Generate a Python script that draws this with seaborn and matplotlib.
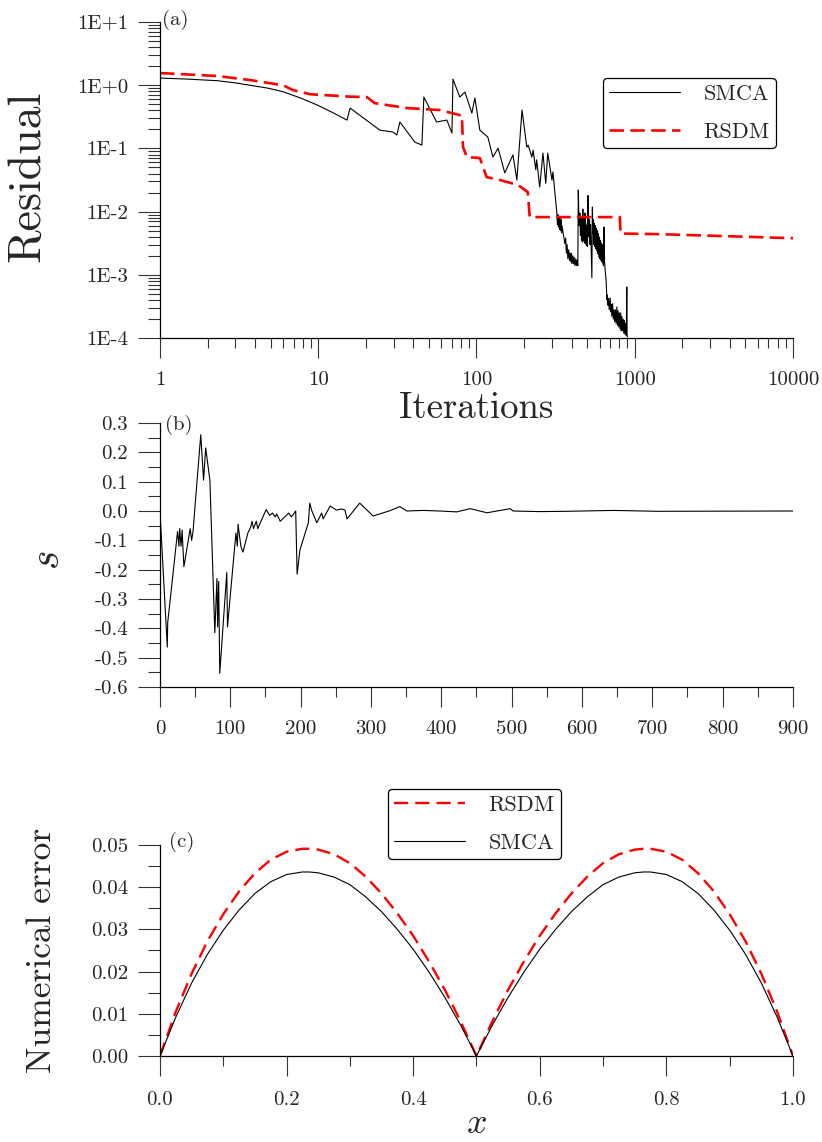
import numpy as np
import pandas as pd
import matplotlib
matplotlib.use("Agg")
import matplotlib.pyplot as plt
from matplotlib.ticker import LogLocator, NullFormatter, MultipleLocator, FixedLocator
import seaborn as sns

sns.set_style("ticks")
plt.rcParams["font.family"] = ["cmr10", "DejaVu Serif"]
plt.rcParams["mathtext.fontset"] = "cm"
plt.rcParams["axes.unicode_minus"] = False

# ---------------- data: panel (a) ----------------
smca_iter = [1, 1.5, 2.3, 3, 3.7, 4.8, 6, 7.7, 9.8, 12.4,
             15.2, 15.9, 24.5, 29.6, 31.4, 32.8, 40.8, 45.2, 46.5, 56,
             65, 70, 71, 78.5, 84.5, 93.5, 97.7, 105, 118, 127,
             137, 151, 170, 180, 194, 208, 212, 224, 228, 237,
             240, 251, 263, 274, 282, 300, 304, 322, 325, 327,
             330, 332, 335, 337, 340, 342, 345, 347, 355, 362,
             366, 370, 374, 378, 383, 387, 390, 395, 398, 401,
             406, 410, 414, 419, 424, 428, 432, 437, 440, 445,
             450, 454, 457, 461, 464, 467, 470, 473, 475, 478,
             480, 483, 485, 488, 490, 495, 500, 503, 506, 510,
             515, 518, 522, 526, 530, 536, 540, 544, 548, 551,
             555, 560, 563, 566, 570, 575, 580, 584, 587, 590,
             593, 596, 599, 602, 607, 612, 616, 620, 625, 630,
             635, 639, 645, 650, 660, 667, 672, 678, 684, 690,
             696, 700, 705, 710, 717, 725, 732, 740, 747, 755,
             763, 771, 778, 785, 792, 800, 808, 815, 822, 829,
             837, 845, 852, 860, 868, 876, 884, 891, 895, 900]
smca_res = [1.30, 1.25, 1.18, 1.09, 1.0, 0.90, 0.79, 0.63, 0.49, 0.367,
            0.281, 0.435, 0.195, 0.182, 0.163, 0.262, 0.126, 0.113, 0.65, 0.262,
            0.281, 0.175, 1.25, 0.65, 0.78, 0.363, 0.63, 0.195, 0.151, 0.073,
            0.101, 0.041, 0.079, 0.0316, 0.405, 0.105, 0.113, 0.073, 0.094, 0.046,
            0.066, 0.0245, 0.0846, 0.028, 0.0846, 0.0316, 0.0424, 0.0095, 0.0062, 0.0090,
            0.0057, 0.0085, 0.0052, 0.0078, 0.0050, 0.0075, 0.0046, 0.0060, 0.0042, 0.0031,
            0.0038, 0.0022, 0.0030, 0.0018, 0.0025, 0.0017, 0.0022, 0.0016, 0.0022, 0.0015,
            0.0020, 0.0015, 0.0019, 0.0014, 0.0018, 0.0014, 0.0017, 0.0014, 0.022, 0.006,
            0.0095, 0.0042, 0.0080, 0.0035, 0.0075, 0.0033, 0.0110, 0.0038, 0.0080, 0.0034,
            0.0070, 0.0032, 0.0095, 0.0031, 0.0065, 0.0029, 0.0060, 0.0028, 0.018, 0.0050,
            0.0040, 0.0075, 0.0030, 0.0062, 0.0027, 0.0009, 0.0118, 0.0045, 0.0075, 0.0030,
            0.0065, 0.0028, 0.0060, 0.0026, 0.0055, 0.0024, 0.0050, 0.0022, 0.0045, 0.0021,
            0.0040, 0.0019, 0.0038, 0.0018, 0.0035, 0.0017, 0.0032, 0.0016, 0.0030, 0.0015,
            0.0014, 0.0057, 0.0016, 0.0012, 0.0008, 0.0004, 0.00048, 0.00033, 0.00042, 0.00028,
            0.00036, 0.00043, 0.00026, 0.00034, 0.00022, 0.00035, 0.0002, 0.00028, 0.00018, 0.00028,
            0.00017, 0.00031, 0.00016, 0.00027, 0.00015, 0.00025, 0.00014, 0.00025, 0.00013, 0.00022,
            0.00013, 0.0002, 0.00012, 0.00019, 0.000115, 0.00017, 0.00011, 0.00064, 0.00011, 0.000104]

rsdm_iter = [1, 2.3, 3.7, 6.0, 6.9, 8.9, 15.9, 20.3, 22.8, 36.3,
             58.7, 78.5, 80.9, 82.2, 87, 105, 116, 141, 183, 211,
             217, 805, 814, 1440, 10000]
rsdm_res = [1.56, 1.40, 1.21, 1.0, 0.84, 0.72, 0.66, 0.65, 0.52, 0.435,
            0.405, 0.337, 0.337, 0.105, 0.073, 0.0705, 0.0352, 0.0316, 0.0264, 0.0204,
            0.0082, 0.0082, 0.0045, 0.0044, 0.0038]

res_ticks = [1e-4, 1e-3, 1e-2, 1e-1, 1e0, 1e1]
res_tick_labels = ["1E-4", "1E-3", "1E-2", "1E-1", "1E+0", "1E+1"]
iter_ticks = [1, 10, 100, 1000, 10000]
iter_tick_labels = ["1", "10", "100", "1000", "10000"]

# ---------------- data: panel (b) ----------------
s_iter = [0, 10.4, 11, 15.6, 25, 27, 28, 30, 31.5, 34,
          43, 45, 47, 58, 62, 65, 71, 78, 81, 82,
          83.5, 85, 95, 96, 108, 110, 111, 115, 118, 125,
          129, 131, 133, 137, 139, 151, 156, 160, 164, 166,
          171, 183, 187, 193, 195, 199, 211, 213, 216, 223,
          230, 232, 242, 251, 258, 263, 266, 284, 303, 327,
          341, 351, 374, 398, 422, 441, 465, 498, 502, 540,
          578, 645, 707, 900]
s_val = [0.0, -0.464, -0.38, -0.28, -0.07, -0.12, -0.06, -0.12, -0.065, -0.19,
         -0.06, -0.10, -0.07, 0.26, 0.105, 0.215, 0.105, -0.415, -0.23, -0.395,
         -0.24, -0.553, -0.21, -0.395, -0.075, -0.12, -0.045, -0.12, -0.14, -0.075,
         -0.055, -0.035, -0.06, -0.035, -0.06, 0.005, -0.015, -0.007, -0.02, -0.01,
         -0.035, -0.007, -0.02, 0.0, -0.215, -0.133, -0.04, 0.027, 0.0, -0.04,
         -0.007, -0.027, 0.017, 0.003, 0.007, 0.003, -0.027, 0.027, -0.017, 0.001,
         0.015, 0.0, 0.002, 0.0, -0.003, 0.008, -0.006, 0.008, 0.0, -0.002,
         -0.001, 0.002, -0.001, 0.0]
s_ticks = [-0.6, -0.5, -0.4, -0.3, -0.2, -0.1, 0.0, 0.1, 0.2, 0.3]
s_tick_labels = ["-0.6", "-0.5", "-0.4", "-0.3", "-0.2", "-0.1", "0.0", "0.1", "0.2", "0.3"]

# ---------------- data: panel (c) ----------------
err_x = [0.0, 0.025, 0.05, 0.075, 0.1, 0.125, 0.15, 0.175, 0.2, 0.225, 0.236,
         0.25, 0.275, 0.3, 0.325, 0.35, 0.375, 0.4, 0.425, 0.45, 0.475, 0.5,
         0.525, 0.55, 0.575, 0.6, 0.625, 0.65, 0.675, 0.7, 0.725, 0.75, 0.764,
         0.775, 0.8, 0.825, 0.85, 0.875, 0.9, 0.925, 0.95, 0.975, 1.0]
err_rsdm = [0.0, 0.0105, 0.0195, 0.0272, 0.0336, 0.0390, 0.0433, 0.0465, 0.0484, 0.0491, 0.0491,
            0.0489, 0.0478, 0.0457, 0.0425, 0.0385, 0.0338, 0.0285, 0.0224, 0.0157, 0.0082, 0.0,
            0.0082, 0.0157, 0.0224, 0.0285, 0.0338, 0.0385, 0.0425, 0.0457, 0.0478, 0.0489, 0.0491,
            0.0491, 0.0484, 0.0465, 0.0433, 0.0390, 0.0336, 0.0272, 0.0195, 0.0105, 0.0]
err_smca = [0.0, 0.0092, 0.0173, 0.0241, 0.0298, 0.0346, 0.0385, 0.0413, 0.0430, 0.0436, 0.0436,
            0.0434, 0.0424, 0.0406, 0.0377, 0.0342, 0.0300, 0.0253, 0.0199, 0.0139, 0.0073, 0.0,
            0.0073, 0.0139, 0.0199, 0.0253, 0.0300, 0.0342, 0.0377, 0.0406, 0.0424, 0.0434, 0.0436,
            0.0436, 0.0430, 0.0413, 0.0385, 0.0346, 0.0298, 0.0241, 0.0173, 0.0092, 0.0]
err_yticks = [0.0, 0.01, 0.02, 0.03, 0.04, 0.05]
err_ytick_labels = ["0.00", "0.01", "0.02", "0.03", "0.04", "0.05"]
x_ticks = [0.0, 0.2, 0.4, 0.6, 0.8, 1.0]
x_tick_labels = ["0.0", "0.2", "0.4", "0.6", "0.8", "1.0"]

# ---------------- figure ----------------
fig = plt.figure(figsize=(8.22, 11.42), dpi=100)
L, W = 0.1946, 0.7701
ax1 = fig.add_axes([L, 0.7040, W, 0.2767])
ax2 = fig.add_axes([L, 0.3984, W, 0.2312])
ax3 = fig.add_axes([L, 0.0753, W, 0.1848])
for a in (ax1, ax2, ax3):
    a.set_facecolor("none")

TICKC = "#333333"
LS = 15


def style_axis(ax):
    sns.despine(ax=ax)
    for sp in ("left", "bottom"):
        ax.spines[sp].set_linewidth(0.9)
        ax.spines[sp].set_color("black")
    ax.tick_params(axis="y", which="major", direction="out", length=16, width=0.8,
                   color=TICKC, pad=7, labelsize=LS)
    ax.tick_params(axis="y", which="minor", direction="out", length=8.5, width=0.8, color=TICKC)
    ax.tick_params(axis="x", which="major", direction="out", length=14.5, width=0.8,
                   color=TICKC, pad=9, labelsize=LS)
    ax.tick_params(axis="x", which="minor", direction="out", length=7.2, width=0.8, color=TICKC)


def style_legend(ax):
    leg = ax.get_legend()
    leg.get_frame().set_linewidth(0.9)


red_dash = (0, (5.5, 2.4))
LEG = dict(fontsize=16, frameon=True, fancybox=True, edgecolor="black", framealpha=1,
           handlelength=3.2, handletextpad=1.05, labelspacing=0.85, borderpad=0.28,
           borderaxespad=0)

# ---- panel (a)
df_smca = pd.DataFrame({"Iterations": smca_iter, "Residual": smca_res})
df_rsdm = pd.DataFrame({"Iterations": rsdm_iter, "Residual": rsdm_res})
sns.lineplot(data=df_smca, x="Iterations", y="Residual", ax=ax1, color="black",
             linewidth=0.8, estimator=None, sort=False, label="SMCA")
sns.lineplot(data=df_rsdm, x="Iterations", y="Residual", ax=ax1, color="#ff0000",
             linewidth=1.9, estimator=None, sort=False, linestyle=red_dash, label="RSDM")
ax1.set_xscale("log")
ax1.set_yscale("log")
ax1.set_xlim(1, 10000)
ax1.set_ylim(1e-4, 10)
ax1.xaxis.set_major_locator(FixedLocator(iter_ticks))
ax1.set_xticklabels(iter_tick_labels)
ax1.xaxis.set_minor_locator(LogLocator(base=10, subs=np.arange(2, 10), numticks=30))
ax1.xaxis.set_minor_formatter(NullFormatter())
ax1.yaxis.set_major_locator(FixedLocator(res_ticks))
ax1.set_yticklabels(res_tick_labels)
ax1.yaxis.set_minor_locator(LogLocator(base=10, subs=np.arange(2, 10), numticks=30))
ax1.yaxis.set_minor_formatter(NullFormatter())
style_axis(ax1)
ax1.set_xlabel("Iterations", fontsize=26.5, va="center")
ax1.set_ylabel("Residual", fontsize=33, va="center", ha="center")
ax1.xaxis.set_label_coords(0.5, -0.222)
ax1.yaxis.set_label_coords(-0.210, 0.513)
ax1.text(0.004, 1.006, "(a)", transform=ax1.transAxes, fontsize=15, va="center", ha="left")
h1, l1 = ax1.get_legend_handles_labels()
ax1.legend(h1, l1, loc="upper right", bbox_to_anchor=(0.973, 0.823), **LEG)
style_legend(ax1)

# ---- panel (b)
df_s = pd.DataFrame({"iter": s_iter, "s": s_val})
sns.lineplot(data=df_s, x="iter", y="s", ax=ax2, color="black", linewidth=0.8,
             estimator=None, sort=False)
ax2.set_xlim(0, 900)
ax2.set_ylim(-0.6, 0.3)
ax2.xaxis.set_major_locator(MultipleLocator(100))
ax2.xaxis.set_minor_locator(MultipleLocator(50))
ax2.yaxis.set_major_locator(FixedLocator(s_ticks))
ax2.set_yticklabels(s_tick_labels)
ax2.yaxis.set_minor_locator(MultipleLocator(0.05))
style_axis(ax2)
ax2.set_xlabel("")
ax2.set_ylabel(r"$s$", fontsize=30, va="center", ha="center", rotation=90)
ax2.yaxis.set_label_coords(-0.177, 0.48)
ax2.text(0.008, 0.992, "(b)", transform=ax2.transAxes, fontsize=15, va="center", ha="left")

# ---- panel (c)
df_err = pd.DataFrame({"x": err_x, "RSDM": err_rsdm, "SMCA": err_smca})
sns.lineplot(data=df_err, x="x", y="RSDM", ax=ax3, color="#ff0000", linewidth=1.7,
             estimator=None, sort=False, linestyle=(0, (6.0, 3.0)), label="RSDM")
sns.lineplot(data=df_err, x="x", y="SMCA", ax=ax3, color="black", linewidth=0.8,
             estimator=None, sort=False, label="SMCA")
ax3.set_xlim(0, 1)
ax3.set_ylim(0, 0.05)
ax3.xaxis.set_major_locator(FixedLocator(x_ticks))
ax3.set_xticklabels(x_tick_labels)
ax3.xaxis.set_minor_locator(MultipleLocator(0.1))
ax3.yaxis.set_major_locator(FixedLocator(err_yticks))
ax3.set_yticklabels(err_ytick_labels)
ax3.yaxis.set_minor_locator(MultipleLocator(0.005))
style_axis(ax3)
ax3.tick_params(axis="x", which="major", pad=11)
ax3.set_xlabel(r"$x$", fontsize=26, va="center")
ax3.set_ylabel("Numerical error", fontsize=25.5, va="center", ha="center")
ax3.xaxis.set_label_coords(0.5, -0.325)
ax3.yaxis.set_label_coords(-0.186, 0.502)
ax3.text(0.014, 1.014, "(c)", transform=ax3.transAxes, fontsize=15, va="center", ha="left")
h3, l3 = ax3.get_legend_handles_labels()
ax3.legend(h3, l3, loc="upper left", bbox_to_anchor=(0.360, 1.265), **LEG)
style_legend(ax3)

fig.savefig("out.png", dpi=100)
